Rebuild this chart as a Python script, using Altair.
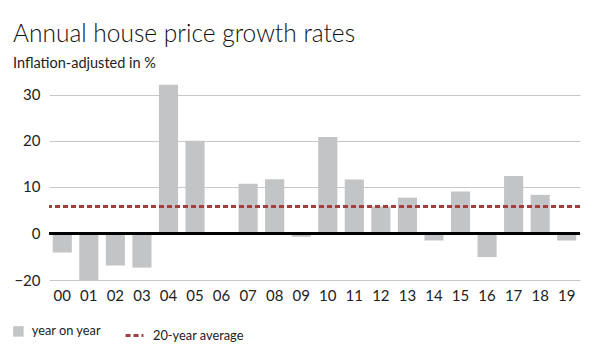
import altair as alt
import pandas as pd

years = ["00","01","02","03","04","05","06","07","08","09",
         "10","11","12","13","14","15","16","17","18","19"]
growth = [-8.3, -20.0, -13.8, -14.7, 32.1, 20.0, 0.0, 10.7, 11.7, -1.5,
          20.8, 11.6, 5.8, 7.7, -3.1, 9.0, -10.2, 12.4, 8.3, -3.1]
average = 5.8
y_ticks = [-20, 0, 10, 20, 30]

bars_df = pd.DataFrame({"year": years, "growth": growth, "series": "year on year"})
avg_df = pd.DataFrame({"avg": [average], "series2": ["20-year average"]})

FONT = "Lato"
H = 197
ZERO = 150.2

yscale = alt.Scale(domain=[-20, 0, 32.5], range=[H, ZERO, 0], zero=False, nice=False)

bars = alt.Chart(bars_df).mark_bar(color="#c3c4c6").encode(
    x=alt.X("year:N", sort=years, title=None,
            scale=alt.Scale(paddingInner=0.28, paddingOuter=0.14),
            axis=alt.Axis(labelAngle=0, ticks=False, domain=False, labelPadding=8,
                          labelFontSize=15, labelColor="#222", labelFont=FONT)),
    y=alt.Y("growth:Q", scale=yscale, title=None,
            axis=alt.Axis(values=y_ticks, ticks=False, domain=False, labelPadding=9,
                          labelFontSize=15, labelColor="#222", labelFont=FONT,
                          gridColor="#c8c8c8", gridWidth=1)),
    fill=alt.Fill("series:N", scale=alt.Scale(range=["#c3c4c6"]),
                  legend=alt.Legend(title=None, orient="none", legendX=-37, legendY=242,
                                    symbolType="square", symbolSize=110, symbolStrokeWidth=0,
                                    labelFontSize=12.8, labelFont=FONT, labelColor="#222",
                                    labelOffset=7)),
)

zero_line = alt.Chart(bars_df).mark_rule(color="#000", strokeWidth=2).encode(
    y=alt.datum(0, scale=yscale)
)

avg_line = alt.Chart(avg_df).mark_rule(color="#a3403f", strokeWidth=3).encode(
    y=alt.Y("avg:Q", scale=yscale),
    strokeDash=alt.StrokeDash("series2:N", scale=alt.Scale(range=[[5, 3]]),
                              legend=alt.Legend(title=None, orient="none", legendX=75, legendY=242,
                                                symbolType="stroke", symbolSize=320,
                                                symbolStrokeColor="#a3403f", symbolStrokeWidth=3,
                                                symbolDash=[4, 2.5],
                                                labelFontSize=12.8, labelFont=FONT, labelColor="#222",
                                                labelOffset=8)),
)

chart = alt.layer(bars, avg_line, zero_line).properties(
    width=531, height=H,
    padding={"left": 41, "top": 75, "right": 12, "bottom": 72},
    autosize=alt.AutoSizeParams(type="none"),
    title=alt.Title("Annual house price growth rates", subtitle="Inflation-adjusted in %",
                    anchor="start", frame="group", dx=-36, offset=12,
                    font=FONT, fontSize=24.5, fontWeight=300, color="#111",
                    subtitleFont=FONT, subtitleFontSize=14.5, subtitleColor="#222",
                    subtitlePadding=9),
).configure_view(stroke=None)

chart.save("out.html", embed_options={"renderer": "svg", "actions": False})
